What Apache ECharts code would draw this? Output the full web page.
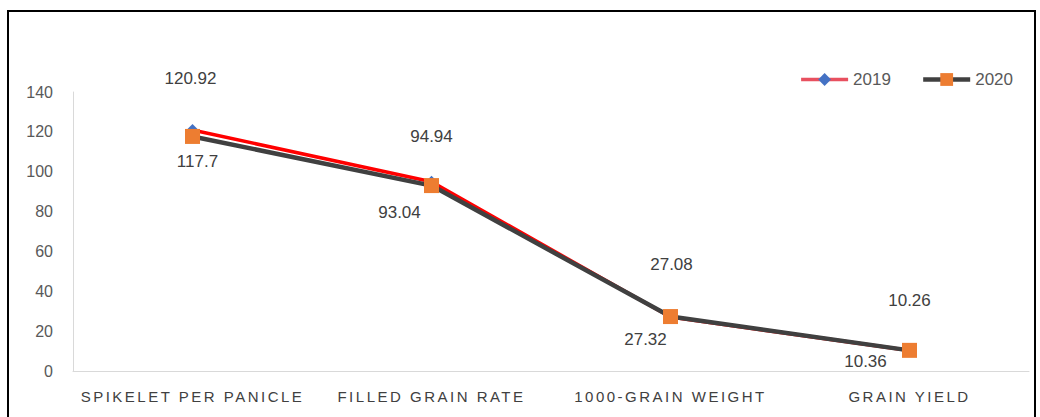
<!DOCTYPE html>
<html>
<head>
<meta charset="utf-8">
<script src="https://cdn.jsdelivr.net/npm/echarts@6/dist/echarts.min.js"></script>
<style>
  html, body { margin: 0; padding: 0; background: #fff; }
  #chart { width: 1040px; height: 417px; }
</style>
</head>
<body>
<div id="chart"></div>
<script>
// Rice yield components, two seasons
const categories = ['SPIKELET PER PANICLE', 'FILLED GRAIN RATE', '1000-GRAIN WEIGHT', 'GRAIN YIELD'];
const values2019 = [120.92, 94.94, 27.08, 10.26];
const values2020 = [117.7, 93.04, 27.32, 10.36];
const yTicks = { min: 0, max: 140, interval: 20 };

// label placement relative to each marker (px)
const labelOffset2019 = [[-2, -52], [0, -45], [1, -53], [0, -50]];
const labelOffset2020 = [[5, 25], [-32, 27], [-25, 23], [-44, 11]];

const chart = echarts.init(document.getElementById('chart'), null, { renderer: 'svg' });

const FONT = '"Liberation Sans", Arial, sans-serif';

function withLabels(values, offsets) {
  return values.map((v, i) => ({ value: v, label: { offset: offsets[i] } }));
}

const labelStyle = {
  show: true,
  position: 'inside',
  align: 'center',
  verticalAlign: 'middle',
  color: '#404040',
  fontSize: 17,
  fontFamily: FONT
};

chart.setOption({
  animation: false,
  backgroundColor: '#ffffff',
  graphic: [{
    type: 'rect',
    shape: { x: 8, y: 11, width: 1027, height: 420 },
    style: { fill: 'none', stroke: '#000000', lineWidth: 2 },
    silent: true,
    z: 100
  }],
  grid: { left: 73, right: 11, top: 92, bottom: 46, containLabel: false },
  legend: {
    right: 22,
    top: 66,
    itemWidth: 47,
    itemHeight: 16,
    itemGap: 30,
    textStyle: { color: '#595959', fontSize: 17, fontFamily: FONT },
    data: [
      { name: '2019', lineStyle: { width: 3.5, color: '#E8505F' } },
      { name: '2020', lineStyle: { width: 4.5, color: '#404040' } }
    ]
  },
  xAxis: {
    type: 'category',
    data: categories,
    boundaryGap: true,
    axisLine: { show: true, lineStyle: { color: '#D9D9D9', width: 1 } },
    axisTick: { show: false },
    axisLabel: { color: '#404040', fontSize: 15, fontFamily: FONT, margin: 18, interval: 0 },
    splitLine: { show: false }
  },
  yAxis: {
    type: 'value',
    min: yTicks.min,
    max: yTicks.max,
    interval: yTicks.interval,
    axisLine: { show: true, lineStyle: { color: '#D9D9D9', width: 1 } },
    axisTick: { show: false },
    axisLabel: { color: '#595959', fontSize: 16, fontFamily: FONT, margin: 20 },
    splitLine: { show: false }
  },
  series: [
    {
      name: '2019',
      type: 'line',
      data: withLabels(values2019, labelOffset2019),
      symbol: 'diamond',
      symbolSize: 12,
      itemStyle: { color: '#4472C4' },
      lineStyle: { color: '#FF0000', width: 3.5 },
      label: labelStyle,
      z: 2
    },
    {
      name: '2020',
      type: 'line',
      data: withLabels(values2020, labelOffset2020),
      symbol: 'rect',
      symbolSize: 15,
      itemStyle: { color: '#ED7D31' },
      lineStyle: { color: '#404040', width: 4.5 },
      label: labelStyle,
      z: 3
    }
  ]
});

// widen the tracking of the category names
function spaceCategoryLabels() {
  const texts = document.querySelectorAll('#chart svg text');
  texts.forEach(t => {
    if (categories.indexOf(t.textContent) !== -1) {
      t.style.letterSpacing = '2.5px';
    }
  });
}
chart.on('finished', spaceCategoryLabels);
spaceCategoryLabels();
</script>
</body>
</html>
